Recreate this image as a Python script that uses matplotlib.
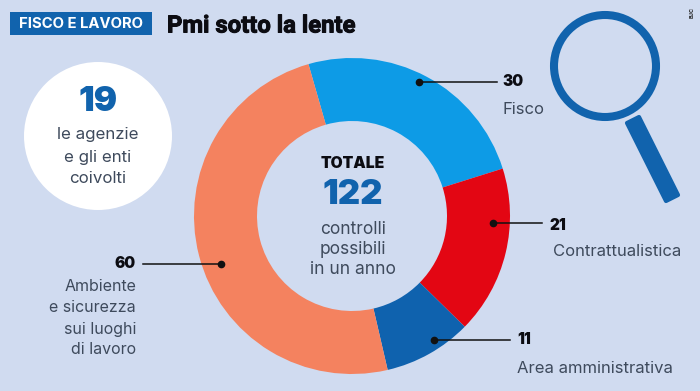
import matplotlib
matplotlib.use('Agg')
import matplotlib.pyplot as plt
import matplotlib.patheffects as pe
from matplotlib.patches import Circle, Rectangle, Polygon

# data
labels = ['Fisco', 'Contrattualistica', 'Area amministrativa', 'Ambiente\ne sicurezza\nsui luoghi\ndi lavoro']
values = [30, 21, 11, 60]
colors = ['#0d9be6', '#e30613', '#0f62ae', '#f4825f']
total = 122
agencies = 19

bg = '#d0dbf0'
dark_blue = '#1163ad'
grey = '#3e4a5c'
black = '#0c0c12'

plt.rcParams['font.family'] = ['Inter', 'DejaVu Sans']

fig = plt.figure(figsize=(7, 3.91), dpi=100, facecolor=bg)
ax = fig.add_axes([0, 0, 1, 1])

# donut, y axis is flipped below so the angles run clockwise on screen
ax.pie(values, colors=colors, center=(352, 216), radius=158, startangle=254,
       wedgeprops={'width': 63, 'linewidth': 0})
ax.set_xlim(0, 700)
ax.set_ylim(391, 0)
ax.set_aspect('auto')
ax.axis('off')

# header
ax.add_patch(Rectangle((10, 12), 142, 23, color=dark_blue, lw=0))
ax.text(81, 24, 'FISCO E LAVORO', color='white', fontsize=10.7, fontweight='bold', ha='center', va='center')
title = ax.text(167, 26, 'Pmi sotto la lente', color=black, fontsize=17.2,
                fontweight='bold', ha='left', va='center', family='Roboto')
title.set_path_effects([pe.withStroke(linewidth=0.7, foreground=black)])
ax.text(692, 12, 'BJC', color='#222222', fontsize=4, fontweight='bold', rotation=90, ha='center', va='center')

# white circle
ax.add_patch(Circle((98, 136), 74, color='white', lw=0))
ax.text(98, 102, str(agencies), color=dark_blue, fontsize=25, fontweight='black', ha='center', va='center')
ax.text(98, 133, 'le agenzie', color=grey, fontsize=12.2, ha='center', va='center_baseline')
ax.text(98, 156, 'e gli enti', color=grey, fontsize=12.2, ha='center', va='center_baseline')
ax.text(98, 177, 'coivolti', color=grey, fontsize=12.2, ha='center', va='center_baseline')

# centre
ax.text(353, 164, 'TOTALE', color=black, fontsize=11.3, fontweight='black', ha='center', va='center')
ax.text(353, 195, str(total), color=dark_blue, fontsize=25, fontweight='black', ha='center', va='center')
ax.text(353, 227, 'controlli', color=grey, fontsize=12.5, ha='center', va='center_baseline')
ax.text(353, 248, 'possibili', color=grey, fontsize=12.5, ha='center', va='center_baseline')
ax.text(353, 268, 'in un anno', color=grey, fontsize=12.5, ha='center', va='center_baseline')

# leaders
ax.plot([419, 497], [82, 82], color='#111111', lw=1.1)
ax.plot([419], [82], 'o', color='#111111', ms=4.5)
ax.plot([493, 542], [223, 223], color='#111111', lw=1.1)
ax.plot([493], [223], 'o', color='#111111', ms=4.5)
ax.plot([434, 510], [340, 340], color='#111111', lw=1.1)
ax.plot([434], [340], 'o', color='#111111', ms=4.5)
ax.plot([143, 221], [264, 264], color='#111111', lw=1.1)
ax.plot([221], [264], 'o', color='#111111', ms=4.5)

# labels
ax.text(502, 82, str(values[0]), color=black, fontsize=11, fontweight='black', va='center')
ax.text(502, 108, labels[0], color=grey, fontsize=12, va='center_baseline')
ax.text(550, 225, str(values[1]), color=black, fontsize=11, fontweight='black', va='center')
ax.text(553, 250, labels[1], color=grey, fontsize=12, va='center_baseline')
ax.text(517, 340, str(values[2]), color=black, fontsize=11, fontweight='black', va='center')
ax.text(517, 367, labels[2], color=grey, fontsize=12, va='center_baseline')
ax.text(136, 264, str(values[3]), color=black, fontsize=11, fontweight='black', va='center', ha='right')
for y, line in zip([285, 306, 328, 348], labels[3].split('\n')):
    ax.text(136, y, line, color=grey, fontsize=11.5, va='center_baseline', ha='right')

# magnifying glass
ax.add_patch(Circle((605, 66), 51, fill=False, ec=dark_blue, lw=5.8))
ax.add_patch(Polygon([(627, 123), (639, 117), (678, 195), (666, 201)], closed=True,
                     fc=dark_blue, ec=dark_blue, lw=3, joinstyle='round'))

fig.savefig('out.png', dpi=100, facecolor=bg)
